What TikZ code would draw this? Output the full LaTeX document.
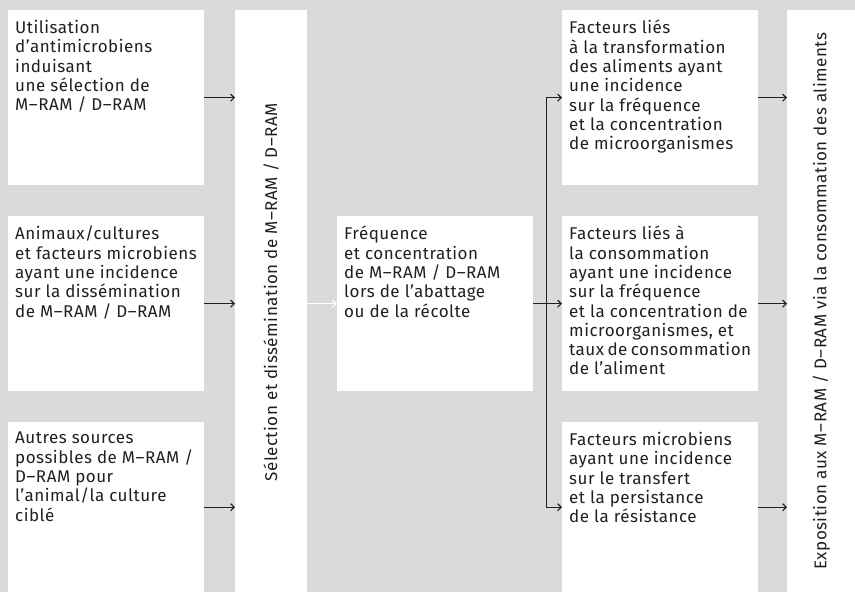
\documentclass[tikz,border=0pt]{standalone}
\usepackage{fontspec}
\setmainfont{Fira Sans}[LetterSpace=3]
\usetikzlibrary{arrows.meta}
\definecolor{bggrey}{RGB}{217,218,220}
\definecolor{ink}{RGB}{35,31,32}
\newcommand{\boxtext}[2]{\parbox[t][#1][t]{182pt}{#2}}

\begin{document}
\begin{tikzpicture}[x=1pt,y=-1pt,>={Straight Barb[length=3.5pt,width=7pt]},
    every node/.style={font=\fontsize{17}{19.3}\selectfont, text=ink},
    box/.style={fill=white, anchor=north west, inner xsep=7pt, inner ysep=10pt, align=left},
    tall/.style={fill=white, anchor=north west, inner sep=0pt},
    link/.style={draw=ink, line width=1.2pt, ->}]
  \fill[bggrey] (0,0) rectangle (855,592);
  \useasboundingbox (0,0) rectangle (855,592);
  \draw
    (8,10) node[box] (use){\boxtext{155pt}{Utilisation\\ d’antimicrobiens\\ induisant\\ une sélection de\\ M–RAM / D–RAM}}
    (8,216) node[box] (host){\boxtext{155pt}{Animaux/cultures\\ et facteurs microbiens\\ ayant une incidence\\ sur la dissémination\\ de M–RAM / D–RAM}}
    (8,422) node[box] (other){\boxtext{150pt}{Autres sources\\ possibles de M–RAM /\\ D–RAM pour\\ l’animal/la culture\\ ciblé}}
    (235,10) node[tall, minimum width=72pt, minimum height=582pt] (sel){\rotatebox{90}{\hspace{18pt}Sélection et dissémination de M–RAM / D–RAM}}
    (337,216) node[box] (freq){\boxtext{155pt}{Fréquence\\ et concentration\\ de M–RAM / D–RAM\\ lors de l’abattage\\ ou de la récolte}}
    (562,10) node[box] (proc){\boxtext{155pt}{Facteurs liés\\ à la transformation\\ des aliments ayant\\ une incidence\\ sur la fréquence\\ et la concentration\\ de microorganismes}}
    (562,216) node[box] (cons){\boxtext{155pt}{Facteurs liés à\\ la consommation\\ ayant une incidence\\ sur la fréquence\\ et la concentration de\\ microorganismes, et\\ taux de consommation\\ de l’aliment}}
    (562,422) node[box] (micro){\boxtext{150pt}{Facteurs microbiens\\ ayant une incidence\\ sur le transfert\\ et la persistance\\ de la résistance}}
    (787,10) node[tall, minimum width=68pt, minimum height=582pt] (expo){\rotatebox{90}{Exposition aux M–RAM / D–RAM via la consommation des aliments}};
  \coordinate (split) at ([xshift=13pt]freq.east);
  \begin{scope}[link]
    \draw (use.east) -- (use.east -| sel.west);
    \draw (host.east) -- (host.east -| sel.west);
    \draw (other.east) -- (other.east -| sel.west);
    \draw[draw=white] (sel.east |- freq.west) -- (freq.west);
    \draw[-] (freq.east) -- (split);
    \draw (split) |- (proc.west);
    \draw (split) -- (split -| cons.west);
    \draw (split) |- (micro.west);
    \draw (proc.east) -- (proc.east -| expo.west);
    \draw (cons.east) -- (cons.east -| expo.west);
    \draw (micro.east) -- (micro.east -| expo.west);
  \end{scope}
\end{tikzpicture}
\end{document}
